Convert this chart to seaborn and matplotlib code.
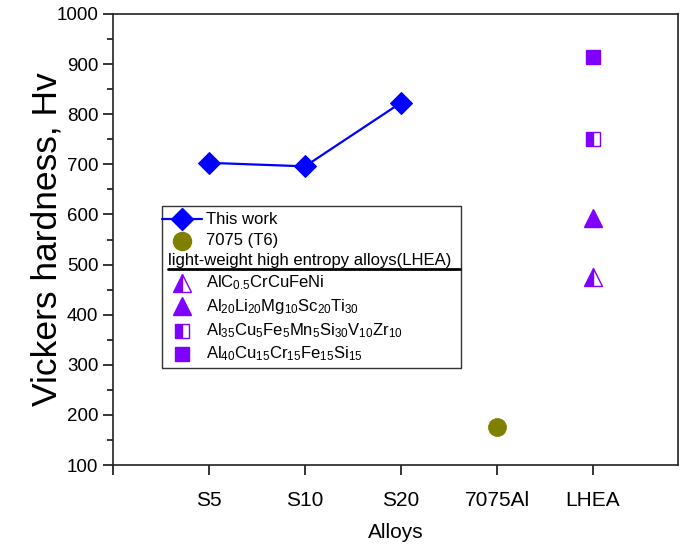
import seaborn as sns
import matplotlib.pyplot as plt
import matplotlib.lines as mlines
import numpy as np
import pandas as pd

# x-axis categories
categories = ['S5', 'S10', 'S20', '7075Al', 'LHEA']

# this work
work_alloys = ['S5', 'S10', 'S20']
work_hv = [703, 696, 823]

# reference 7075 (T6)
ref_alloy = ['7075Al']
ref_hv = [175]

# light-weight high entropy alloys
lhea_names = [r'AlC$_{0.5}$CrCuFeNi',
              r'Al$_{20}$Li$_{20}$Mg$_{10}$Sc$_{20}$Ti$_{30}$',
              r'Al$_{35}$Cu$_{5}$Fe$_{5}$Mn$_{5}$Si$_{30}$V$_{10}$Zr$_{10}$',
              r'Al$_{40}$Cu$_{15}$Cr$_{15}$Fe$_{15}$Si$_{15}$']
lhea_hv = [476, 592, 750, 915]

sns.set_style('ticks')
plt.rcParams['font.family'] = ['Liberation Sans', 'DejaVu Sans']
plt.rcParams['mathtext.default'] = 'regular'
plt.rcParams['text.color'] = 'black'
plt.rcParams['axes.labelcolor'] = 'black'
plt.rcParams['xtick.color'] = 'black'
plt.rcParams['ytick.color'] = 'black'

BLUE = '#0000FF'
OLIVE = '#808000'
PURPLE = '#8000FF'

pos = {c: i + 1 for i, c in enumerate(categories)}

fig = plt.figure(figsize=(6.88, 5.44), dpi=100)
ax = fig.add_axes([113 / 688, (544 - 465) / 544, 565 / 688, 451 / 544])

df_work = pd.DataFrame({'x': [pos[a] for a in work_alloys], 'hv': work_hv})
sns.lineplot(data=df_work, x='x', y='hv', ax=ax, color=BLUE, lw=1.6,
             marker='D', markersize=11.5, markeredgecolor=BLUE)

df_ref = pd.DataFrame({'x': [pos[a] for a in ref_alloy], 'hv': ref_hv})
sns.scatterplot(data=df_ref, x='x', y='hv', ax=ax, color=OLIVE, s=13 ** 2,
                edgecolor=OLIVE, linewidth=0.5, zorder=3)

lhea_styles = [dict(marker='^', fillstyle='left', ms=12.5),
               dict(marker='^', fillstyle='full', ms=12.5),
               dict(marker='s', fillstyle='left', ms=10.5),
               dict(marker='s', fillstyle='full', ms=10.5)]
for hv, st in zip(lhea_hv, lhea_styles):
    ax.plot([pos['LHEA']], [hv], linestyle='none', color=PURPLE,
            markerfacecoloralt='white', markeredgecolor=PURPLE,
            markeredgewidth=1.0, **st)

ax.set_xlim(0, 5.885)
ax.set_ylim(100, 1000)
ax.set_xticks(range(0, 6))
ax.set_xticklabels([''] + categories)
ax.set_yticks(np.arange(100, 1001, 100))
ax.set_yticks(np.arange(150, 1000, 100), minor=True)
ax.tick_params(axis='x', labelsize=15, length=7, width=1.1, direction='out', pad=12)
ax.tick_params(axis='y', which='major', labelsize=13.5, length=7, width=1.1, direction='out')
ax.tick_params(axis='y', which='minor', length=4, width=1.1, direction='out')
for s in ax.spines.values():
    s.set_visible(True)
    s.set_linewidth(1.2)
    s.set_color('#222222')

ax.set_xlabel('Alloys', fontsize=15, labelpad=9)
ax.set_ylabel('Vickers hardness, Hv', fontsize=25.5, labelpad=-5)

# custom legend box with group header
def fx(px):
    return (px - 113) / 565


def fy(py):
    return (465 - py) / 451


tr = ax.transAxes
box = plt.Rectangle((fx(162), fy(368)), fx(461) - fx(162), fy(206) - fy(368),
                    transform=tr, facecolor='white', edgecolor='#333333',
                    lw=1.0, zorder=5)
ax.add_patch(box)

mx = fx(182)
tx = fx(206)
fs = 12
ax.add_line(mlines.Line2D([fx(162), fx(202)], [fy(219)] * 2, transform=tr,
                          color=BLUE, lw=1.6, zorder=6))
ax.plot([mx], [fy(219)], transform=tr, marker='D', ms=11.5, color=BLUE,
        linestyle='none', zorder=7)
ax.text(tx, fy(219), 'This work', transform=tr, fontsize=fs, va='center', zorder=7)

ax.plot([mx], [fy(241)], transform=tr, marker='o', ms=13, color=OLIVE,
        linestyle='none', zorder=7)
ax.text(tx, fy(241), '7075 (T6)', transform=tr, fontsize=fs, va='center', zorder=7)

ax.text(fx(168), fy(261), 'light-weight high entropy alloys(LHEA)', transform=tr,
        fontsize=fs, va='center', zorder=7)
ax.add_line(mlines.Line2D([fx(168), fx(460)], [fy(269)] * 2, transform=tr,
                          color='black', lw=2.0, zorder=7))

row_y = [283, 306, 331, 354]
for name, st, ry in zip(lhea_names, lhea_styles, row_y):
    ax.plot([mx], [fy(ry)], transform=tr, linestyle='none', color=PURPLE,
            markerfacecoloralt='white', markeredgecolor=PURPLE,
            markeredgewidth=1.0, zorder=7, **st)
    ax.text(tx, fy(ry), name, transform=tr, fontsize=fs, va='center', zorder=7)

fig.savefig('out.png', dpi=100)
